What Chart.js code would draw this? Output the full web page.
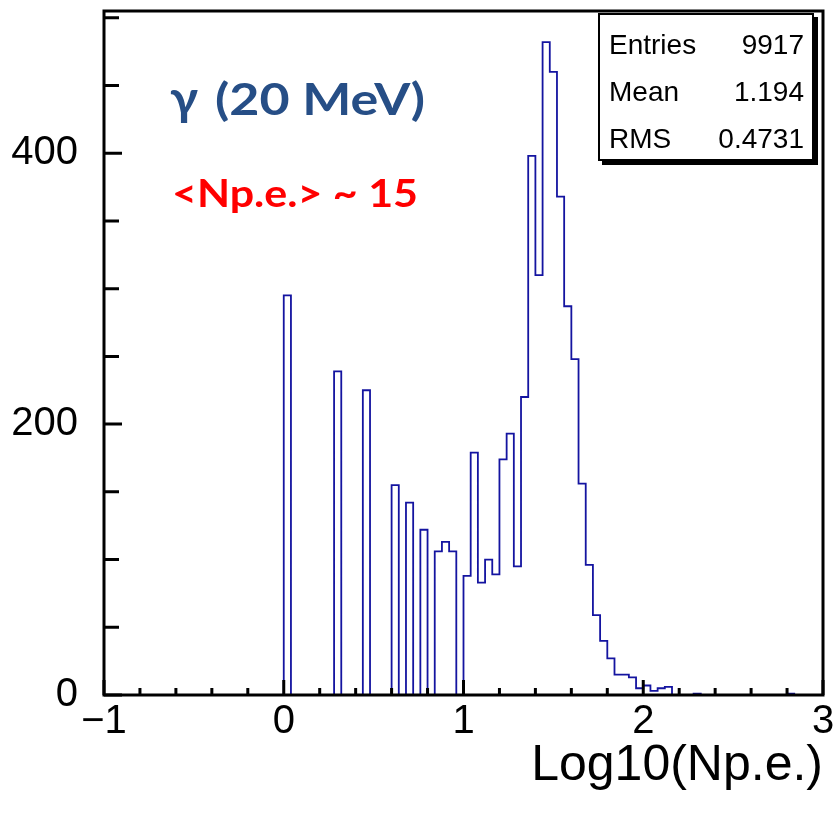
<!DOCTYPE html>
<html>
<head>
<meta charset="utf-8">
<script src="https://cdn.jsdelivr.net/npm/chart.js@4.4.1/dist/chart.umd.min.js"></script>
<style>
  body { margin: 0; background: #fff; }
  #wrap { width: 837px; height: 818px; }
</style>
</head>
<body>
<div id="wrap"><canvas id="histChart" width="837" height="818"></canvas></div>
<script>
// histogram: 100 bins of 0.04 between -1 and 3
const xMin = -1;
const xMax = 3;
const yMax = 505;
const binWidth = 0.04;
const binCounts = [
  0, 0, 0, 0, 0, 0, 0, 0, 0, 0,
  0, 0, 0, 0, 0, 0, 0, 0, 0, 0,
  0, 0, 0, 0, 0, 295, 0, 0, 0, 0,
  0, 0, 239, 0, 0, 0, 225, 0, 0, 0,
  155, 0, 142, 0, 122, 0, 106, 113, 106, 0,
  88, 179, 83, 100, 89, 174, 193, 95, 220, 398,
  310, 482, 460, 368, 287, 248, 156, 96, 59, 40,
  27, 15, 15, 13, 5, 7, 3, 5, 6, 0,
  0, 0, 1, 0, 0, 0, 0, 0, 0, 0,
  0, 0, 0, 0, 0, 1, 0, 0, 0, 0
];
const xTickLabels = ['\u22121', '0', '1', '2', '3'];
const yTickLabels = ['0', '200', '400'];
const statsLabels = ['Entries', 'Mean', 'RMS'];
const statsValues = ['9917', '1.194', '0.4731'];
const titleText = '\u03b3';
const titleRest = '(20 MeV)';
const noteText = '<Np.e.> ~ 15';

const points = binCounts.map((c, i) => ({ x: xMin + i * binWidth, y: c }));
points.push({ x: xMax, y: 0 });

function fitText(ctx, text, x, y, width) {
  const w = ctx.measureText(text).width;
  ctx.save();
  ctx.translate(x, y);
  ctx.scale(width / w, 1);
  ctx.fillText(text, 0, 0);
  ctx.restore();
}

const rootFrame = {
  id: 'rootFrame',
  afterDatasetsDraw(chart) {
    const { ctx, chartArea: a, scales: { x, y } } = chart;
    ctx.save();
    ctx.strokeStyle = '#000';
    ctx.lineWidth = 3;
    ctx.strokeRect(a.left, a.top, a.right - a.left, a.bottom - a.top);
    ctx.beginPath();
    for (let i = 0; i <= 20; i++) {
      const px = x.getPixelForValue(xMin + i * 0.2);
      const len = i % 5 === 0 ? 15 : 7;
      ctx.moveTo(px, a.bottom);
      ctx.lineTo(px, a.bottom - len);
    }
    for (let v = 0; v <= 500; v += 50) {
      const py = y.getPixelForValue(v);
      const len = v % 200 === 0 ? 18 : 15;
      ctx.moveTo(a.left, py);
      ctx.lineTo(a.left + len, py);
    }
    ctx.stroke();

    // stats box with shadow
    ctx.fillStyle = '#000';
    ctx.fillRect(602, 17, 216, 148);
    ctx.fillStyle = '#fff';
    ctx.fillRect(599, 14, 214, 146);
    ctx.lineWidth = 2;
    ctx.strokeRect(599, 14, 214, 146);
    ctx.fillStyle = '#000';
    ctx.font = '28px "Liberation Sans", Arial, sans-serif';
    ctx.textBaseline = 'middle';
    statsLabels.forEach((lab, i) => {
      const ty = 46 + i * 47;
      ctx.textAlign = 'left';
      ctx.fillText(lab, 609, ty);
      ctx.textAlign = 'right';
      ctx.fillText(statsValues[i], 804, ty);
    });

    // annotations
    ctx.textAlign = 'left';
    ctx.textBaseline = 'alphabetic';
    ctx.fillStyle = '#264e86';
    ctx.font = 'bold 48px Lato, "Open Sans", sans-serif';
    fitText(ctx, titleText, 170, 115, 28);
    ctx.font = 'bold 44px Lato, "Open Sans", sans-serif';
    fitText(ctx, titleRest, 215, 115, 210);
    ctx.fillStyle = '#ff0000';
    ctx.font = 'bold 38px Lato, "Open Sans", sans-serif';
    fitText(ctx, noteText, 172, 207, 246);
    ctx.restore();
  }
};

new Chart(document.getElementById('histChart'), {
  type: 'line',
  data: {
    datasets: [{
      data: points,
      stepped: 'before',
      borderColor: '#1414a0',
      borderWidth: 1.8,
      pointRadius: 0,
      fill: false
    }]
  },
  options: {
    responsive: false,
    animation: false,
    layout: { padding: { top: 11, right: 14, left: 0, bottom: 0 } },
    plugins: { legend: { display: false }, tooltip: { enabled: false } },
    scales: {
      x: {
        type: 'linear',
        min: xMin,
        max: xMax,
        afterFit: s => { s.height = 123; s.paddingLeft = 0; s.paddingRight = 0; },
        grid: { display: false, drawTicks: false },
        border: { display: false },
        ticks: {
          stepSize: 1,
          padding: 3,
          maxRotation: 0,
          color: '#000',
          font: { family: '"Liberation Sans", Arial, sans-serif', size: 40 },
          callback: v => xTickLabels[Math.round(v - xMin)]
        },
        title: {
          display: true,
          text: 'Log10(Np.e.)',
          align: 'end',
          color: '#000',
          font: { family: '"Liberation Sans", Arial, sans-serif', size: 50 },
          padding: { top: 0, bottom: 22 }
        }
      },
      y: {
        min: 0,
        max: yMax,
        afterFit: s => { s.width = 104; s.paddingTop = 0; s.paddingBottom = 0; },
        grid: { display: false, drawTicks: false },
        border: { display: false },
        ticks: {
          stepSize: 200,
          includeBounds: false,
          padding: 26,
          color: '#000',
          font: { family: '"Liberation Sans", Arial, sans-serif', size: 40 },
          callback: v => yTickLabels[Math.round(v / 200)]
        }
      }
    }
  },
  plugins: [rootFrame]
});
</script>
</body>
</html>
